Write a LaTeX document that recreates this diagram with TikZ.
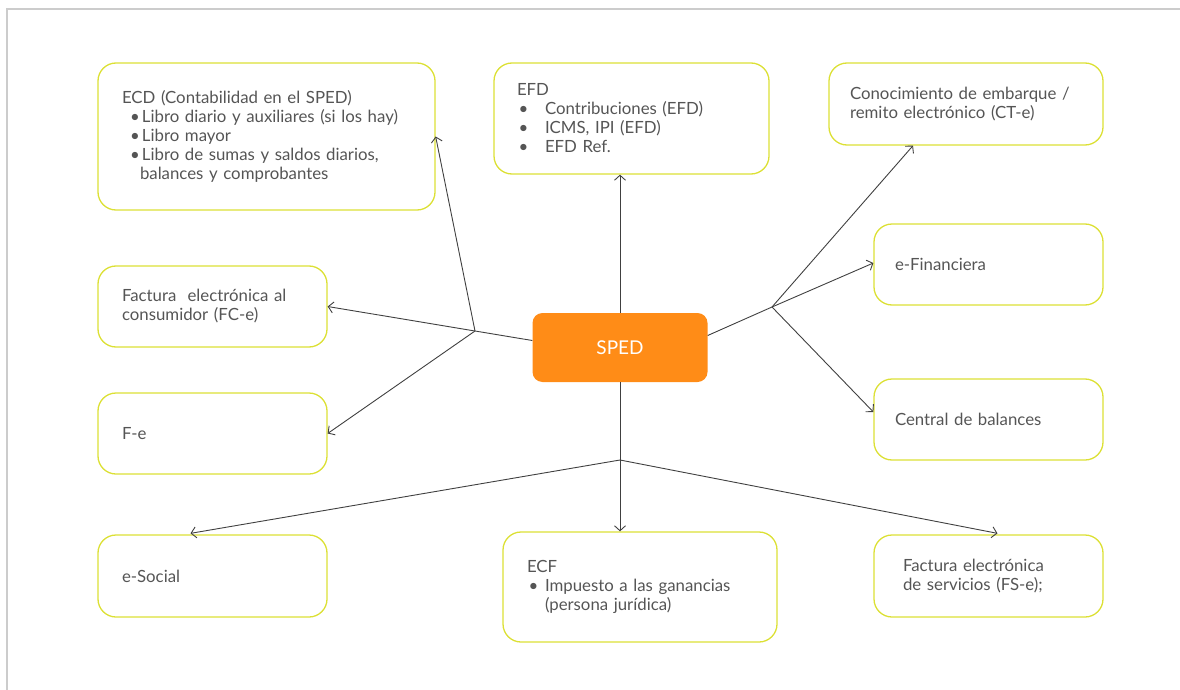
\documentclass[tikz,border=0pt]{standalone}
\usepackage{fontspec}
\setmainfont{Lato}
\usetikzlibrary{arrows.meta,calc}
\definecolor{boxline}{HTML}{DCE035}
\definecolor{txt}{HTML}{555555}
\definecolor{linkcol}{HTML}{404040}
\definecolor{spedfill}{HTML}{FF8C17}
\definecolor{framecol}{HTML}{CCCCCC}
% bullet line: bullet offset, text offset, text
\newcommand{\bitem}[3]{\hspace*{#1}\makebox[#2][l]{\textbullet}#3}
\begin{document}
\begin{tikzpicture}[x=1pt,y=-1pt,
  box/.style={draw=boxline, line width=1.3pt, rounded corners=18pt, align=left,
    text=txt, inner ysep=0pt, font=\fontsize{16.8}{19}\selectfont},
  core/.style={fill=spedfill, rounded corners=10pt, text=white,
    minimum width=175pt, minimum height=69pt, font=\fontsize{19}{21}\selectfont},
  link/.style={draw=linkcol, line width=0.9pt},
  arr/.style={link, -{Straight Barb[length=5pt,width=11pt]}}]
\useasboundingbox (0,0) rectangle (1180,690);
% open frame along the top and left
\draw[framecol, line width=1.5pt] (1180,9) -- (7,9) -- (7,690);

% centre
\node[core] (sped) at (620,347.5) {SPED};

% boxes
\node[box, minimum width=337pt, minimum height=147pt, text width=289pt, inner xsep=24pt] (ecd) at (266.5,136.5)
  {ECD (Contabilidad en el SPED)\\
   \bitem{8pt}{12pt}{Libro diario y auxiliares (si los hay)}\\
   \bitem{8pt}{12pt}{Libro mayor}\\
   \bitem{8pt}{12pt}{Libro de sumas y saldos diarios,}\\
   \hspace*{18pt}balances y comprobantes};
\node[box, minimum width=275pt, minimum height=111pt, text width=229pt, inner xsep=23pt] (efd) at (631.5,118.5)
  {EFD\\
   \bitem{1.5pt}{26.5pt}{Contribuciones (EFD)}\\
   \bitem{1.5pt}{26.5pt}{ICMS, IPI (EFD)}\\
   \bitem{1.5pt}{26.5pt}{EFD Ref.}};
\node[box, minimum width=274pt, minimum height=82pt, text width=232pt, inner xsep=21pt] (cte) at (966,104)
  {Conocimiento de embarque /\\remito electrónico (CT-e)};
\node[box, minimum width=229pt, minimum height=81pt, text width=181pt, inner xsep=24pt] (fce) at (212.5,306.5)
  {Factura\ \ electrónica al\\consumidor (FC-e)};
\node[box, minimum width=229pt, minimum height=81pt, text width=181pt, inner xsep=24pt] (fe) at (212.5,433.5)
  {F-e};
\node[box, minimum width=229pt, minimum height=81pt, text width=187pt, inner xsep=21pt] (efin) at (988.5,264.5)
  {e-Financiera};
\node[box, minimum width=229pt, minimum height=81pt, text width=187pt, inner xsep=21pt] (central) at (988.5,419.5)
  {Central de balances};
\node[box, minimum width=229pt, minimum height=82pt, text width=181pt, inner xsep=24pt] (esocial) at (212.5,576)
  {e-Social};
\node[box, minimum width=274pt, minimum height=110pt, text width=226pt, inner xsep=24pt] (ecf) at (640,587)
  {ECF\\
   \bitem{1.5pt}{16.5pt}{Impuesto a las ganancias}\\
   \hspace*{18pt}(persona jurídica)};
\node[box, minimum width=229pt, minimum height=82pt, text width=171pt, inner xsep=29pt] (fse) at (988.5,576)
  {Factura electrónica\\de servicios (FS-e);};

% branch points
\coordinate (hubL) at (475,331);
\coordinate (hubR) at (772,307);
\coordinate (hubB) at (620,460);

% connectors
\draw[arr] (sped.north) -- (sped.north |- efd.south);
\draw[link] ($(sped.west)+(0,-7)$) -- (hubL);
\draw[arr] (hubL) -- (ecd.east);
\draw[arr] (hubL) -- (fce.east);
\draw[arr] (hubL) -- (fe.east);
\draw[link] ($(sped.east)+(0,-12)$) -- (hubR);
\draw[arr] (hubR) -- ($(cte.south)+(-53,0)$);
\draw[arr] (hubR) -- ($(efin.west)+(0,-1.5)$);
\draw[arr] (hubR) -- ($(central.west)+(0,-7.5)$);
\draw[link] (sped.south) -- (hubB);
\draw[arr] (hubB) -- (hubB |- ecf.north);
\draw[arr] (hubB) -- ($(esocial.north)+(-22,-1)$);
\draw[arr] (hubB) -- ($(fse.north)+(9,-1)$);
\end{tikzpicture}
\end{document}
